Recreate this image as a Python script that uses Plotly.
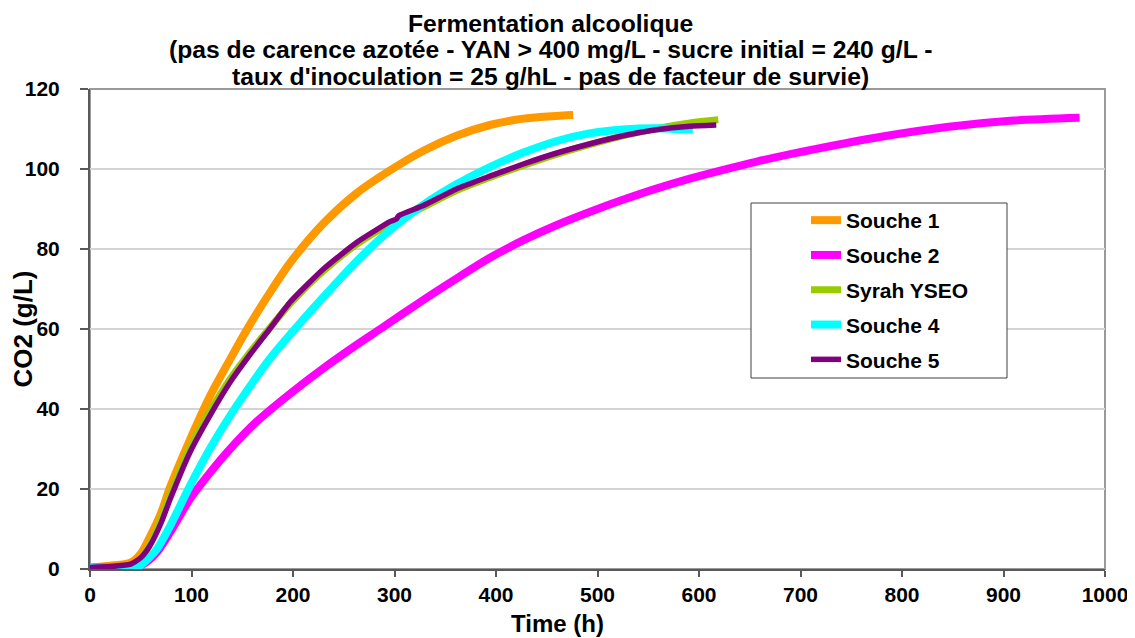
import plotly.graph_objects as go

# ---- data ----
names = ["Souche 1", "Souche 2", "Syrah YSEO", "Souche 4", "Souche 5"]
colors = ["#FF9900", "#FF00FF", "#99CC00", "#00FFFF", "#800080"]

t_s1 = [0, 20, 40, 50, 59, 70, 79, 98.5, 118, 138, 154, 175, 197, 230, 263, 296, 328, 361, 394, 427, 455, 476]
co2_s1 = [0.3, 0.8, 1.6, 3.8, 8, 14, 20.5, 32.3, 43.1, 52.4, 59.6, 68.2, 76.5, 86.4, 94.0, 99.7, 104.5, 108.3, 111, 112.6, 113.2, 113.5]

t_s2 = [0, 20, 40, 49, 57, 66, 79, 98.5, 118, 138, 164, 197, 230, 263, 286, 328, 361, 394, 427, 460, 500, 525, 558, 591, 624, 656, 690, 713, 778, 844, 910, 975]
co2_s2 = [0.3, 0.5, 0.5, 0.8, 2, 4.2, 9.2, 17.5, 24, 30, 36.8, 43.8, 50.2, 56.1, 60, 67.2, 72.6, 77.8, 82.2, 86, 90, 92.3, 95.1, 97.6, 99.8, 101.8, 103.7, 104.9, 108, 110.5, 112.1, 112.8]

t_syrah = [0, 20, 40, 50, 59, 70, 79, 98.5, 118, 138, 158, 177, 197, 230, 263, 296, 328, 361, 394, 427, 460, 492, 525, 558, 591, 619]
co2_syrah = [0.3, 0.5, 1.0, 2.6, 6.2, 12.5, 18.5, 30.3, 39.3, 47.5, 54.3, 60.2, 66.3, 74.5, 81.2, 86.4, 90.4, 94.6, 97.9, 100.9, 103.7, 106.1, 108.3, 110.1, 111.5, 112.3]

t_s4 = [0, 20, 40, 49, 57, 66, 79, 98.5, 118, 138, 158, 177, 204, 230, 263, 296, 328, 361, 394, 427, 460, 492, 525, 558, 594]
co2_s4 = [0.3, 0.4, 0.5, 0.8, 2.5, 5, 10.8, 20.8, 30, 38.3, 45.8, 52.5, 60.6, 68, 77, 84.8, 91, 96.2, 100.5, 104.1, 107, 108.9, 109.9, 110.2, 109.8]

t_s5 = [0, 20, 40, 50, 59, 70, 79, 98.5, 118, 138, 158, 177, 197, 230, 263, 296, 302, 304, 328, 361, 394, 427, 460, 492, 525, 558, 591, 617]
co2_s5 = [0.4, 0.6, 1.2, 2.8, 5.8, 11.5, 17.5, 29.2, 38.3, 46.7, 53.75, 60, 66.7, 75, 81.7, 86.9, 87.5, 88.3, 90.8, 95, 98.2, 101.25, 104, 106.25, 108.3, 109.8, 110.7, 111]

x_ticks = [0, 100, 200, 300, 400, 500, 600, 700, 800, 900, 1000]
y_ticks = [0, 20, 40, 60, 80, 100, 120]

title_lines = [
    "Fermentation alcoolique",
    "(pas de carence azotée - YAN > 400 mg/L - sucre initial = 240 g/L -",
    "taux d'inoculation = 25 g/hL - pas de facteur de survie)",
]
x_title = "Time (h)"
y_title = "CO2 (g/L)"

series = [
    (t_s1, co2_s1, 8, 0.8),
    (t_s2, co2_s2, 8, 0.8),
    (t_syrah, co2_syrah, 7, 0.8),
    (t_s4, co2_s4, 8, 0.8),
    (t_s5, co2_s5, 5.5, 0.5),
]

FONT = "Liberation Sans, Arial, sans-serif"

# page body has an 8px margin: figure is sized so it fits the 1135x638 window
OFF = 8
W, H = 1135 - OFF, 638 - OFF
L, T = 90 - OFF, 89 - OFF
PW, PH = 1015, 480

def px_x(xp):
    return (xp - 90) / PW

def px_y(yp):
    return (569 - yp) / PH

fig = go.Figure()
for (t, v, w, sm), name, col in zip(series, names, colors):
    fig.add_trace(go.Scatter(
        x=t, y=v, mode="lines", name=name, legendgroup=name,
        line=dict(color=col, width=w, shape="spline", smoothing=sm),
    ))

# plot-area frame (top/right lighter grey)
fig.add_shape(type="rect", xref="paper", yref="paper", x0=0, y0=0, x1=1, y1=1,
              line=dict(color="#9a9a9a", width=2), layer="below")
# legend box
fig.add_shape(type="rect", xref="paper", yref="paper",
              x0=px_x(751), x1=px_x(1007), y0=px_y(378), y1=px_y(203),
              line=dict(color="#404040", width=1), fillcolor="white", layer="above")

title_y = [24, 50, 76]
for txt, yp in zip(title_lines, title_y):
    fig.add_annotation(text=txt, xref="paper", yref="paper",
                       x=px_x(550), y=px_y(yp),
                       xanchor="center", yanchor="middle", showarrow=False,
                       font=dict(family=FONT, size=24.7, color="black", weight="bold"))

# x-axis title (centred as in the reference, left of the plot centre)
fig.add_annotation(text=x_title, xref="paper", yref="paper",
                   x=px_x(557), y=px_y(637.5), xanchor="center", yanchor="bottom",
                   showarrow=False, borderpad=0,
                   font=dict(family=FONT, size=24, color="black", weight="bold"))

fig.update_layout(
    width=W, height=H,
    margin=dict(l=L, r=W - L - PW, t=T, b=H - T - PH, autoexpand=False),
    paper_bgcolor="white", plot_bgcolor="white",
    font=dict(family=FONT, color="black"),
    showlegend=True,
    legend=dict(
        x=px_x(806), y=px_y(200), xanchor="left", yanchor="top",
        bgcolor="rgba(0,0,0,0)", borderwidth=0,
        font=dict(family=FONT, size=21, color="black", weight="bold"),
        tracegroupgap=4.5, itemwidth=30,
    ),
    xaxis=dict(
        range=[0, 1000], tickvals=x_ticks, ticktext=[str(v) for v in x_ticks],
        showgrid=False, zeroline=False,
        showline=True, linecolor="#595959", linewidth=2,
        ticks="outside", ticklen=6, tickwidth=2, tickcolor="#595959",
        tickfont=dict(family=FONT, size=21, color="black", weight="bold"),
    ),
    yaxis=dict(
        range=[0, 120], tickvals=y_ticks, ticktext=[str(v) for v in y_ticks],
        showgrid=True, gridcolor="#d4d4d4", gridwidth=1.5, zeroline=False,
        showline=True, linecolor="#595959", linewidth=2,
        ticks="outside", ticklen=8, tickwidth=2, tickcolor="#595959",
        ticklabelstandoff=16,
        tickfont=dict(family=FONT, size=21, color="black", weight="bold"),
        title=dict(text=y_title, standoff=2,
                   font=dict(family=FONT, size=26, color="black", weight="bold")),
    ),
)

fig.write_html("out.html")
